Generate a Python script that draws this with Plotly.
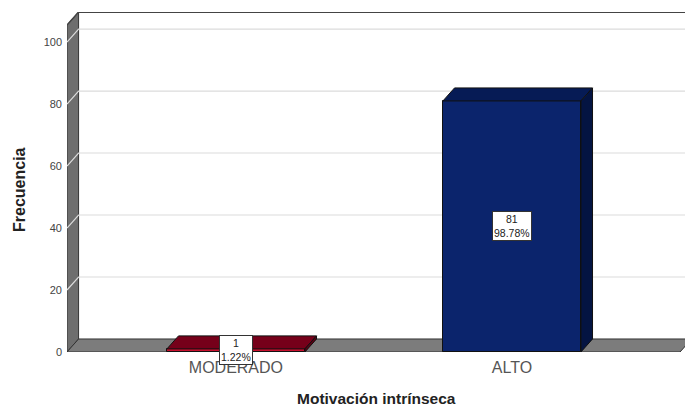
import plotly.graph_objects as go

categories = ["MODERADO", "ALTO"]
counts = [1, 81]
percents = [1.22, 98.78]
y_ticks = [0, 20, 40, 60, 80, 100]

front_colors = ["#c8102e", "#0b246c"]
top_colors = ["#76001a", "#061b55"]
side_colors = ["#5c0013", "#041442"]

# pseudo-3d geometry in data units
X_MIN, X_MAX = -0.612, 1.627
Y_MAX = 109.7
DX, DY = 0.042, 4.2
BAR_W = 0.5
FLOOR_RIGHT = 1.609

PLOT_L, PLOT_R, PLOT_T, PLOT_B = 67, 685, 12, 352

x_pos = list(range(len(categories)))

fig = go.Figure()
fig.add_trace(
    go.Bar(
        x=x_pos,
        y=counts,
        width=BAR_W,
        marker=dict(color=front_colors, line=dict(color="#111111", width=1)),
        hoverinfo="skip",
    )
)

shapes = []


def poly(pts, fill, line="#222222", width=1, layer="below"):
    path = "M " + " L ".join(f"{x},{y}" for x, y in pts) + " Z"
    return dict(type="path", path=path, xref="x", yref="y", fillcolor=fill,
                line=dict(color=line, width=width), layer=layer)


# left wall
shapes.append(poly([(X_MIN, 0), (X_MIN, Y_MAX - DY), (X_MIN + DX, Y_MAX), (X_MIN + DX, DY)],
                   "#6e6e6e", "#333333"))
# floor
shapes.append(poly([(X_MIN, 0), (FLOOR_RIGHT, 0), (FLOOR_RIGHT + DX, DY), (X_MIN + DX, DY)],
                   "#7c7c7c", "#333333"))

# gridlines on the wall
for v in y_ticks[1:]:
    shapes.append(dict(
        type="path",
        path=f"M {X_MIN},{v} L {X_MIN + DX},{v + DY} L {X_MAX},{v + DY}",
        xref="x", yref="y", line=dict(color="#dcdcdc", width=1.2), layer="below",
    ))

# back wall top border
shapes.append(dict(type="line", xref="x", yref="y", x0=X_MIN + DX, x1=X_MAX, y0=Y_MAX, y1=Y_MAX,
                   line=dict(color="#444444", width=2), layer="below"))
shapes.append(dict(type="line", xref="x", yref="y", x0=X_MIN, x1=X_MIN + DX, y0=Y_MAX - DY, y1=Y_MAX,
                   line=dict(color="#444444", width=1.5), layer="below"))

# bar top and side faces
for x, v, tc, sc in zip(x_pos, counts, top_colors, side_colors):
    l, r = x - BAR_W / 2, x + BAR_W / 2
    shapes.append(poly([(l, v), (r, v), (r + DX, v + DY), (l + DX, v + DY)], tc, "#111111", 1, "above"))
    shapes.append(poly([(r, 0), (r, v), (r + DX, v + DY), (r + DX, DY)], sc, "#111111", 1, "above"))

annotations = []
for x, v, p in zip(x_pos, counts, percents):
    annotations.append(dict(
        x=x, y=v / 2, xref="x", yref="y",
        text=f"{v}<br>{p:.2f}%", showarrow=False,
        font=dict(size=10.5, color="#222222", family="Liberation Sans, Arial"),
        bgcolor="#ffffff", bordercolor="#333333", borderwidth=1, borderpad=1,
    ))


def px_to_paper(px, py):
    return (px - PLOT_L) / (PLOT_R - PLOT_L), (PLOT_B - py) / (PLOT_B - PLOT_T)


tx, ty = px_to_paper(19, 190)
annotations.append(dict(
    x=tx, y=ty, xref="paper", yref="paper", xanchor="center", yanchor="middle",
    text="<b>Frecuencia</b>", showarrow=False, textangle=-90,
    font=dict(size=16, color="#222222"),
))
tx, ty = px_to_paper(376, 398)
annotations.append(dict(
    x=tx, y=ty, xref="paper", yref="paper", xanchor="center", yanchor="middle",
    text="<b>Motivación intrínseca</b>", showarrow=False,
    font=dict(size=15.5, color="#222222"),
))

fig.update_layout(
    width=685,
    height=407,
    margin=dict(l=PLOT_L, r=685 - PLOT_R, t=PLOT_T, b=407 - PLOT_B, autoexpand=False),
    paper_bgcolor="#ffffff",
    plot_bgcolor="#ffffff",
    showlegend=False,
    font=dict(family="Liberation Sans, Arial", color="#333333"),
    shapes=shapes,
    annotations=annotations,
    bargap=0,
    xaxis=dict(
        range=[X_MIN, X_MAX],
        tickvals=x_pos,
        ticktext=categories,
        tickfont=dict(size=16, color="#555555"),
        ticklabelstandoff=4,
        showgrid=False,
        zeroline=False,
        showline=False,
        ticks="",
        automargin=False,
    ),
    yaxis=dict(
        range=[0, Y_MAX],
        tickvals=y_ticks,
        tickfont=dict(size=11, color="#444444"),
        ticklabelstandoff=4,
        showgrid=False,
        zeroline=False,
        showline=False,
        ticks="",
        automargin=False,
    ),
)

fig.write_html("out.html", config={"displayModeBar": False},
               post_script="document.body.style.margin='0';")
